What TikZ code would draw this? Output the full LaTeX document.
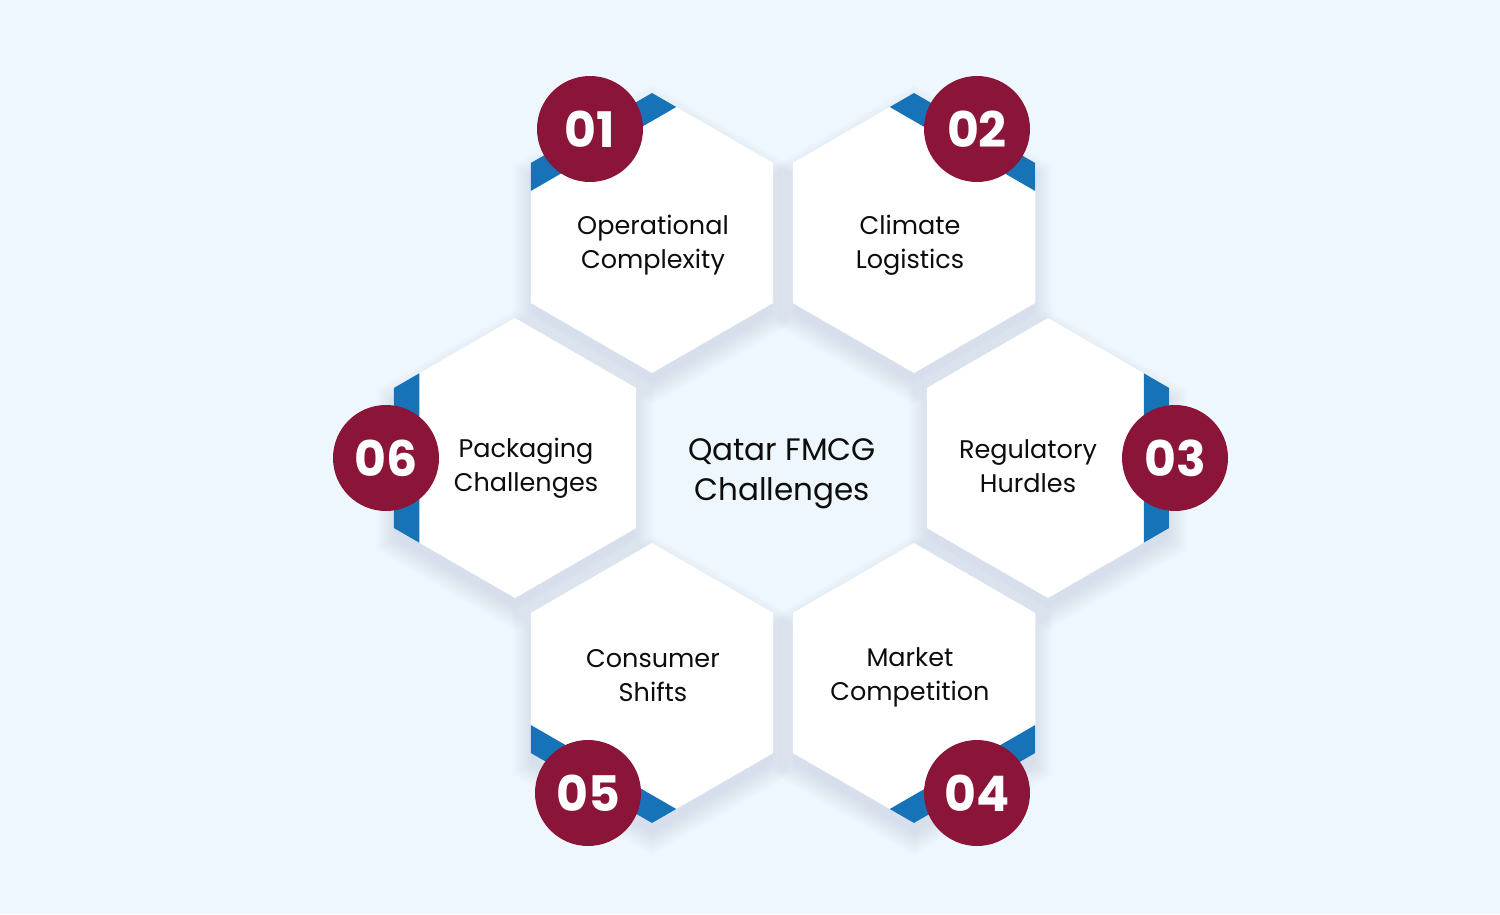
\documentclass[tikz,border=0pt]{standalone}
\usepackage{fontspec}
\setmainfont{Poppins}
\usetikzlibrary{calc}
\definecolor{bg}{HTML}{EEF7FD}
\definecolor{maroonc}{HTML}{8A1538}
\definecolor{accentc}{HTML}{1773B8}
\definecolor{shadowc}{HTML}{A9B4CE}
\definecolor{inkc}{HTML}{0D0D0D}
\newcommand\hexp[3]{({#1},{#2-(#3)}) -- ({#1-0.866*(#3)},{#2-0.5*(#3)}) -- ({#1-0.866*(#3)},{#2+0.5*(#3)}) -- ({#1},{#2+(#3)}) -- ({#1+0.866*(#3)},{#2+0.5*(#3)}) -- ({#1+0.866*(#3)},{#2-0.5*(#3)}) -- cycle}
\tikzset{
  hexlabel/.style={font=\fontsize{25.5}{34}\selectfont, text=inkc, align=center, inner sep=0pt},
  centerlabel/.style={font=\fontsize{31}{40}\selectfont, text=inkc, align=center, inner sep=0pt},
  badge/.style={circle, fill=maroonc, minimum size=106pt, inner sep=0pt, text=white, font=\bfseries\fontsize{49}{49}\selectfont},
  strip/.style={fill=accentc}
}
\begin{document}
\begin{tikzpicture}[x=1pt,y=-1pt]
\fill[bg] (0,0) rectangle (1500,914);
\useasboundingbox (0,0) rectangle (1500,914);
% shadows
\foreach \cx/\cy in {652/233, 914/233, 1048/458, 914/683, 652/683, 515/458}{
  \foreach \i in {1,...,12}{
    \fill[shadowc, opacity=0.028] \hexp{\cx}{\cy+12}{136+2*\i};
  }
}
% hexagons and corner coordinates
\foreach \n/\cx/\cy in {1/652/233, 2/914/233, 3/1048/458, 4/914/683, 5/652/683, 6/515/458}{
  \fill[white] \hexp{\cx}{\cy}{140};
  \coordinate (h\n-t)  at (\cx,\cy-140);
  \coordinate (h\n-ul) at (\cx-121.2,\cy-70);
  \coordinate (h\n-ll) at (\cx-121.2,\cy+70);
  \coordinate (h\n-b)  at (\cx,\cy+140);
  \coordinate (h\n-lr) at (\cx+121.2,\cy+70);
  \coordinate (h\n-ur) at (\cx+121.2,\cy-70);
}
% blue strips
\fill[strip] (h1-t) -- (h1-ul) -- ($(h1-ul)!0.2!(h1-ll)$) -- ($(h1-t)!0.2!(h1-ur)$) -- cycle;
\fill[strip] (h2-t) -- (h2-ur) -- ($(h2-ur)!0.2!(h2-lr)$) -- ($(h2-t)!0.2!(h2-ul)$) -- cycle;
\fill[strip] (h3-ur) -- (h3-lr) -- ($(h3-lr)!0.21!(h3-b)$) -- ($(h3-ur)!0.21!(h3-t)$) -- cycle;
\fill[strip] (h4-b) -- (h4-lr) -- ($(h4-lr)!0.2!(h4-ur)$) -- ($(h4-b)!0.2!(h4-ll)$) -- cycle;
\fill[strip] (h5-b) -- (h5-ll) -- ($(h5-ll)!0.2!(h5-ul)$) -- ($(h5-b)!0.2!(h5-lr)$) -- cycle;
\fill[strip] (h6-ul) -- (h6-ll) -- ($(h6-ll)!0.21!(h6-b)$) -- ($(h6-ul)!0.21!(h6-t)$) -- cycle;
% labels
\node[hexlabel] (l1) at (653,245) {Operational\\Complexity};
\node[hexlabel] (l2) at (910,245) {Climate\\Logistics};
\node[hexlabel] (l3) at (1028,466) {Regulatory\\Hurdles};
\node[hexlabel] (l4) at (910,677) {Market\\Competition};
\node[hexlabel] (l5) at (653,676) {Consumer\\Shifts};
\node[hexlabel] (l6) at (526,468) {Packaging\\Challenges};
\node[centerlabel] (c) at (782,474) {Qatar FMCG\\Challenges};
% badges
\node[badge] (n1) at (590,129) {01};
\node[badge] (n2) at (977,129) {02};
\node[badge] (n3) at (1175,458) {03};
\node[badge] (n4) at (977,793) {04};
\node[badge] (n5) at (588,793) {05};
\node[badge] (n6) at (386,458) {06};
\end{tikzpicture}
\end{document}
